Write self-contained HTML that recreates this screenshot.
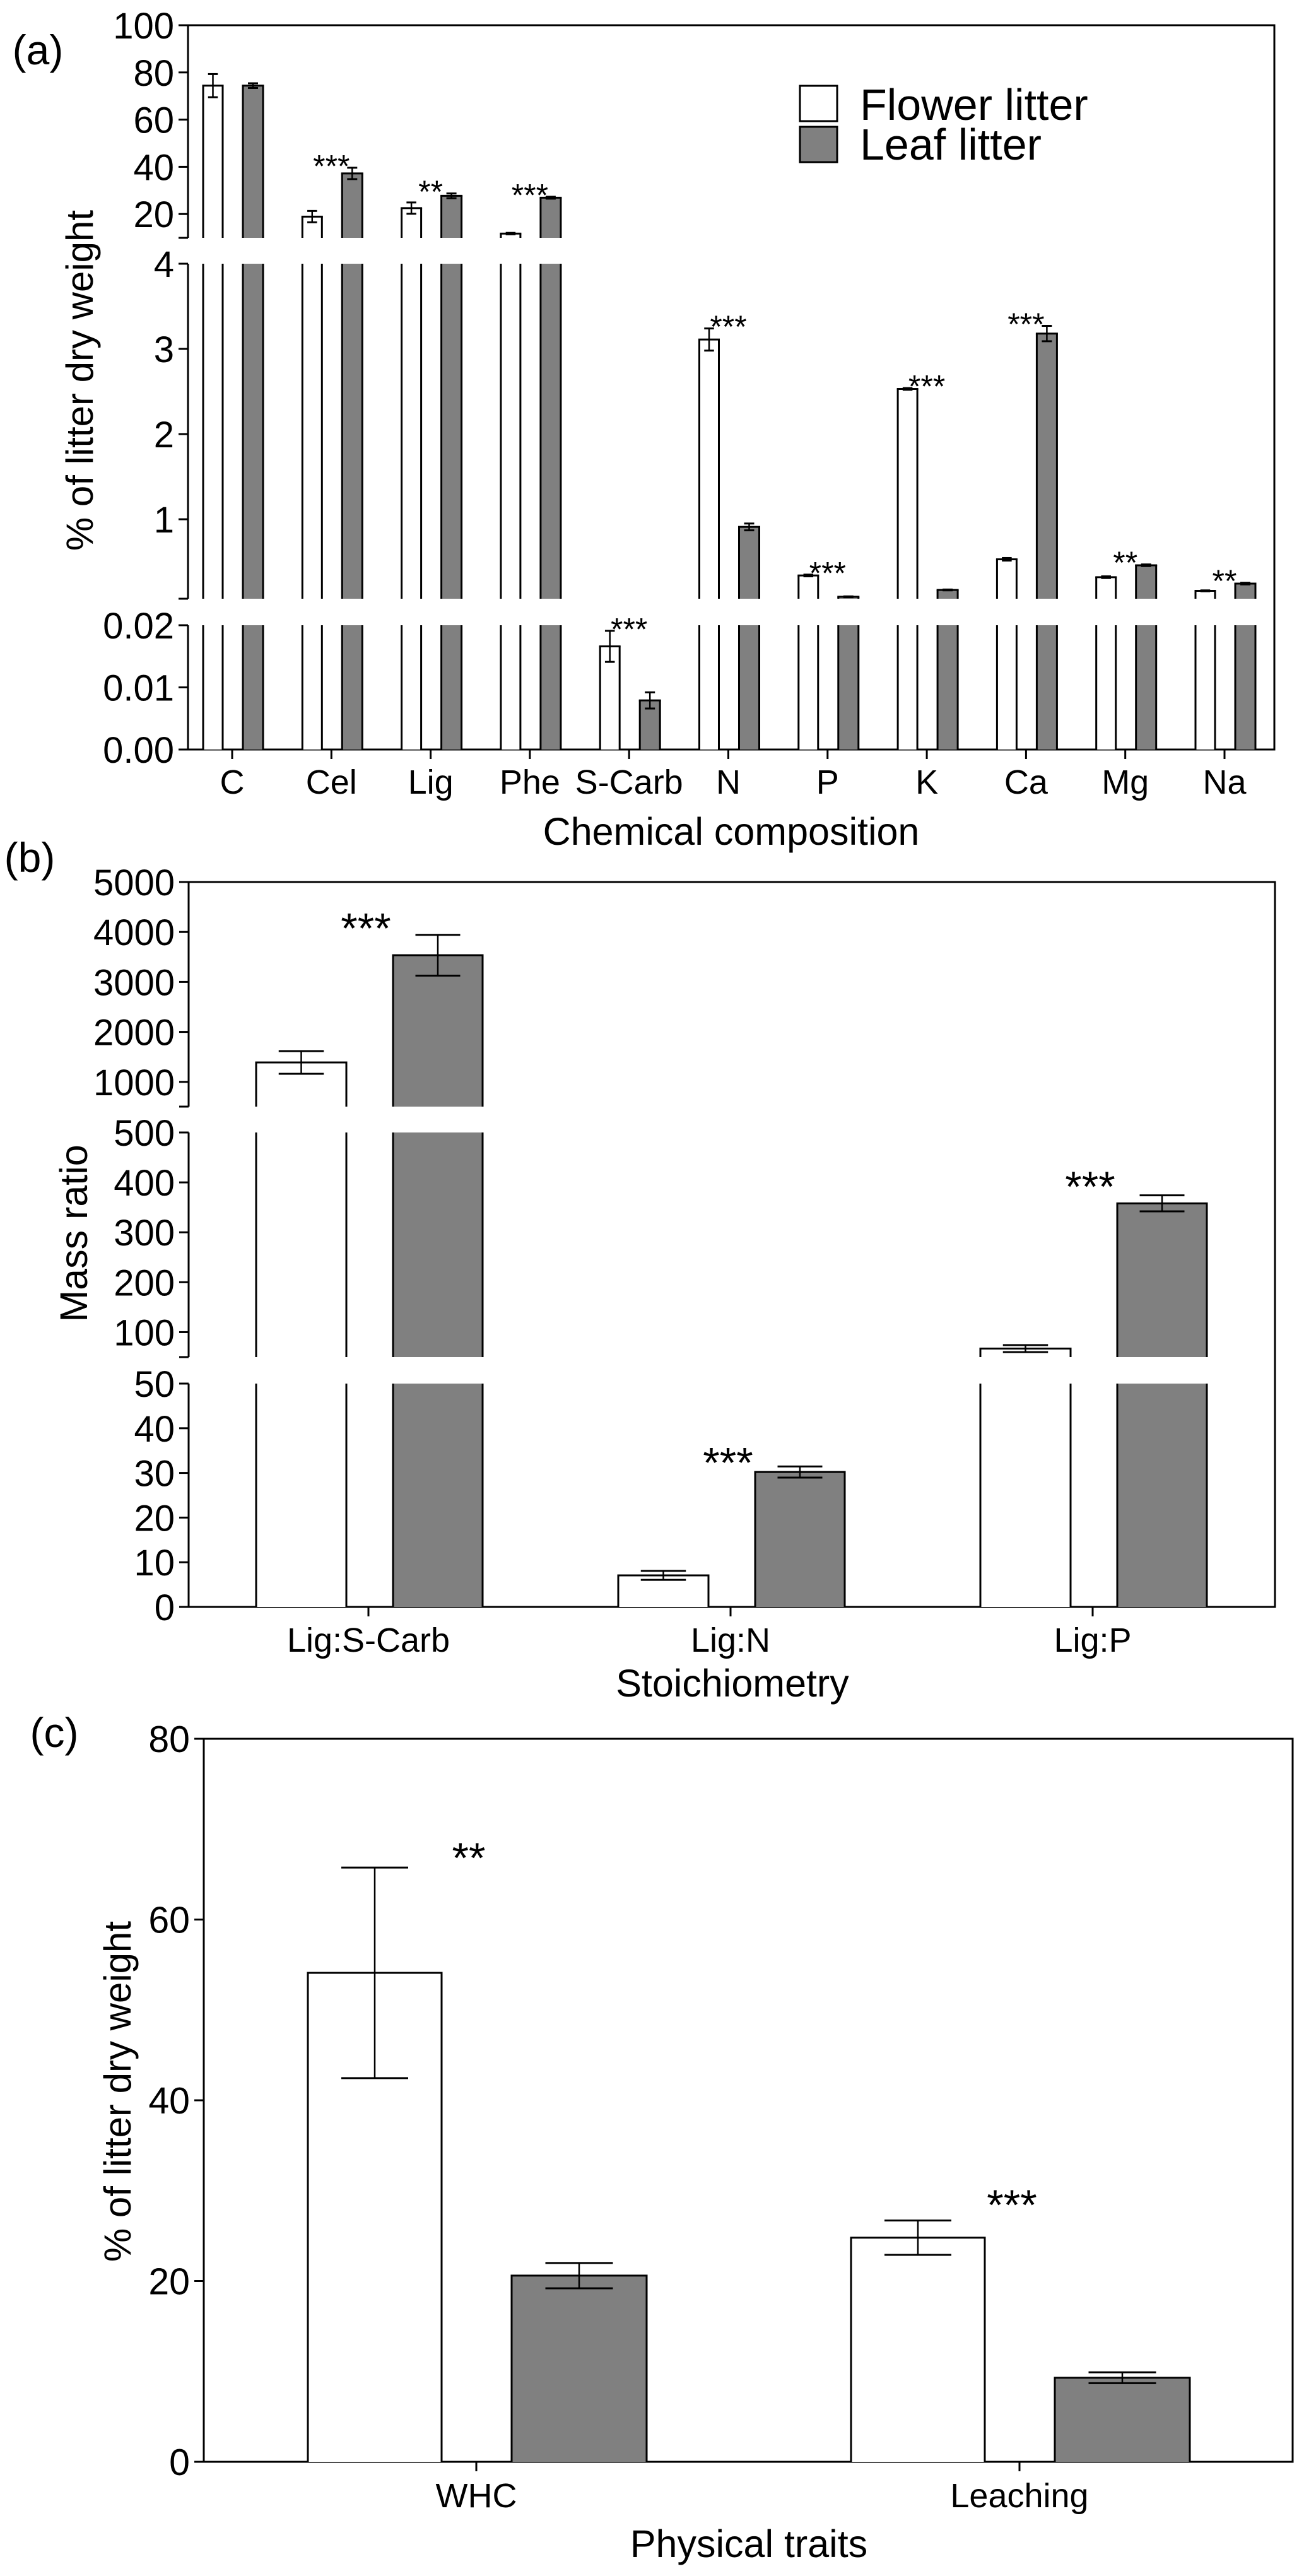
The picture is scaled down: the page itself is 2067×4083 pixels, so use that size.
<!DOCTYPE html>
<html><head><meta charset="utf-8"><title>Litter traits</title>
<style>html,body{margin:0;padding:0;background:#fff;}svg{display:block;}text{font-family:"Liberation Sans",Arial,sans-serif;fill:#000;}</style>
</head><body>
<svg id="fig" xmlns="http://www.w3.org/2000/svg" width="2067" height="4083" viewBox="0 0 2067 4083"></svg>
<script>
// ---- Panel (a) data ----
const catsA = ["C","Cel","Lig","Phe","S-Carb","N","P","K","Ca","Mg","Na"];
const flowerA = [74.4, 18.9, 22.5, 11.7, 0.0166, 3.11, 0.34, 2.53, 0.53, 0.32, 0.16];
const flowerErrA = [4.9, 2.4, 2.4, 0.3, 0.0025, 0.13, 0.01, 0.01, 0.015, 0.01, 0.005];
const leafA = [74.4, 37.2, 27.7, 26.9, 0.0079, 0.91, 0.09, 0.17, 3.18, 0.46, 0.245];
const leafErrA = [1.0, 2.4, 1.0, 0.4, 0.0013, 0.04, 0.005, 0.005, 0.09, 0.01, 0.01];
const starsA = ["","***","**","***","***","***","***","***","***","**","**"];
const ticksA1 = [20,40,60,80,100];
const tickLabA1 = ["20","40","60","80","100"];
const ticksA2 = [1,2,3,4];
const tickLabA2 = ["1","2","3","4"];
const ticksA3 = [0,0.01,0.02];
const tickLabA3 = ["0.00","0.01","0.02"];
// ---- Panel (b) data ----
const catsB = ["Lig:S-Carb","Lig:N","Lig:P"];
const flowerB = [1389, 7.06, 67];
const flowerErrB = [227, 1.0, 7];
const leafB = [3535, 30.2, 358];
const leafErrB = [408, 1.25, 16];
const starsB = ["***","***","***"];
const starValB = [4268, 34.5, 411];
const ticksB1 = [1000,2000,3000,4000,5000];
const tickLabB1 = ["1000","2000","3000","4000","5000"];
const ticksB2 = [100,200,300,400,500];
const tickLabB2 = ["100","200","300","400","500"];
const ticksB3 = [0,10,20,30,40,50];
const tickLabB3 = ["0","10","20","30","40","50"];
// ---- Panel (c) data ----
const catsC = ["WHC","Leaching"];
const flowerC = [54.1, 24.8];
const flowerErrC = [11.65, 1.9];
const leafC = [20.6, 9.3];
const leafErrC = [1.4, 0.6];
const starsC = ["**","***"];
const starValC = [67.9, 29.5];
const ticksC = [0,20,40,60,80];
const tickLabC = ["0","20","40","60","80"];

const NS = "http://www.w3.org/2000/svg";
const svg = document.getElementById("fig");
function mk(tag, attrs, name, parent) {
  const el = document.createElementNS(NS, tag);
  for (const k in attrs) el.setAttribute(k, attrs[k]);
  
  
  (parent || svg).appendChild(el);
  return el;
}
function txt(x, y, s, size, anchor, name, extra) {
  const t = mk("text", Object.assign({x: x, y: y, "font-size": size, "text-anchor": anchor || "middle"}, extra || {}), name);
  t.textContent = s;
  return t;
}
function line(x1, y1, x2, y2, name, w) {
  return mk("line", {x1: x1, y1: y1, x2: x2, y2: y2, stroke: "#000", "stroke-width": w || 3}, name);
}
function segY(seg, v) { return seg.yLo - (v - seg.lo) / (seg.hi - seg.lo) * (seg.yLo - seg.yHi); }
function segOf(segs, v) {
  for (const s of segs) { if (v >= s.lo && v <= s.hi) return s; }
  return segs[segs.length - 1];
}

function drawBar(segs, xl, xr, v, fill, name) {
  segs.forEach(function (s, si) {
    if (v <= s.lo && si < segs.length - 1) return;
    const top = v >= s.hi ? s.yHi : segY(s, Math.max(v, s.lo));
    mk("rect", {x: xl, y: top, width: xr - xl, height: s.yLo - top, fill: fill, stroke: "none"}, name + "-fill");
    line(xl, top, xl, s.yLo, name + "-left-edge");
    line(xr, top, xr, s.yLo, name + "-right-edge");
    if (v < s.hi) line(xl - 1.5, top, xr + 1.5, top, name + "-top-edge");
  });
}
function drawErr(segs, cx, v, e, w, name) {
  const s = segOf(segs, v);
  const yh = segY(s, Math.min(v + e, s.hi + (s.hi - s.lo)));
  const yl = segY(s, v - e);
  line(cx, yh, cx, yl, name + "-whisker", 2.5);
  line(cx - w / 2, yh, cx + w / 2, yh, name + "-cap-high", 3);
  line(cx - w / 2, yl, cx + w / 2, yl, name + "-cap-low", 3);
}

function drawPanel(p) {
  // frame: top, right, bottom axis
  line(p.x0 - 1.5, p.yTop, p.x1 + 1.5, p.yTop, p.id + "-frame-top");
  line(p.x1, p.yTop, p.x1, p.yAxis + 1.5, p.id + "-frame-right");
  line(p.x0 - 1.5, p.yAxis, p.x1 + 1.5, p.yAxis, p.id + "-x-axis");
  // y-axis segments + ticks
  p.segs.forEach(function (s, si) {
    line(p.x0, s.yHi, p.x0, s.yLo, p.id + "-y-axis-segment");
    line(p.x0 - 15, s.yLo, p.x0, s.yLo, p.id + "-y-break-tick");
    line(p.x0 - 15, s.yHi, p.x0, s.yHi, p.id + "-y-break-tick");
    s.ticks.forEach(function (t, i) {
      const y = segY(s, t);
      line(p.x0 - 15, y, p.x0, y, p.id + "-y-tick");
      txt(p.x0 - 22, y + 21, s.labels[i], p.tickSize, "end", p.id + "-y-tick-label");
    });
  });
  // bars
  p.cats.forEach(function (c, i) {
    const cx = p.cx0 + i * p.step;
    line(cx, p.yAxis, cx, p.yAxis + 15, p.id + "-x-tick");
    txt(cx, p.catY, c, p.catSize, "middle", p.id + "-category-label");
    const fxl = cx + p.fl[0], fxr = cx + p.fl[1];
    const lxl = cx + p.lf[0], lxr = cx + p.lf[1];
    drawBar(p.segs, fxl, fxr, p.flower[i], "#ffffff", p.id + "-flower-bar-" + c);
    drawBar(p.segs, lxl, lxr, p.leaf[i], "#808080", p.id + "-leaf-bar-" + c);
    drawErr(p.segs, (fxl + fxr) / 2, p.flower[i], p.flowerErr[i], (fxr - fxl) / 2, p.id + "-flower-error-" + c);
    drawErr(p.segs, (lxl + lxr) / 2, p.leaf[i], p.leafErr[i], (lxr - lxl) / 2, p.id + "-leaf-error-" + c);
    if (p.stars[i]) {
      let yc;
      if (p.starVal) { yc = segY(segOf(p.segs, p.starVal[i]), p.starVal[i]); }
      else {
        const sf = segOf(p.segs, p.flower[i]), sl = segOf(p.segs, p.leaf[i]);
        yc = Math.min(segY(sf, p.flower[i] + p.flowerErr[i]), segY(sl, p.leaf[i] + p.leafErr[i])) - 14;
      }
      txt(cx + (p.starDx || 0), yc + p.starSize * 0.57, p.stars[i], p.starSize, "middle", p.id + "-significance-stars");
    }
  });
}

// Panel a
drawPanel({
  id: "panel-a", x0: 298, x1: 2020, yTop: 40, yAxis: 1188, cx0: 368, step: 157.3,
  fl: [-46, -15], lf: [17, 49], cats: catsA, flower: flowerA, flowerErr: flowerErrA,
  leaf: leafA, leafErr: leafErrA, stars: starsA, starSize: 50, tickSize: 58, catSize: 54, catY: 1258,
  segs: [
    {lo: 9.9, hi: 100, yLo: 377, yHi: 40, ticks: ticksA1, labels: tickLabA1},
    {lo: 0.067, hi: 4, yLo: 949, yHi: 418, ticks: ticksA2, labels: tickLabA2},
    {lo: 0, hi: 0.02, yLo: 1188, yHi: 991, ticks: ticksA3, labels: tickLabA3}
  ]
});
txt(60, 102, "(a)", 66, "middle", "panel-a-label");
txt(1159, 1339, "Chemical composition", 61, "middle", "panel-a-x-axis-title");
txt(147, 603, "% of litter dry weight", 60, "middle", "panel-a-y-axis-title", {transform: "rotate(-90 147 603)"});
mk("rect", {x: 1268, y: 136, width: 59, height: 56, fill: "#fff", stroke: "#000", "stroke-width": 3}, "legend-flower-swatch");
mk("rect", {x: 1268, y: 201, width: 59, height: 56, fill: "#808080", stroke: "#000", "stroke-width": 3}, "legend-leaf-swatch");
txt(1363, 190, "Flower litter", 70, "start", "legend-flower-label");
txt(1363, 253, "Leaf litter", 70, "start", "legend-leaf-label");

// Panel b
drawPanel({
  id: "panel-b", x0: 299, x1: 2021, yTop: 1398, yAxis: 2547, cx0: 584, step: 574,
  fl: [-178, -35], lf: [39, 181], cats: catsB, flower: flowerB, flowerErr: flowerErrB,
  leaf: leafB, leafErr: leafErrB, stars: starsB, starVal: starValB, starDx: -4, starSize: 68, tickSize: 58, catSize: 54, catY: 2618,
  segs: [
    {lo: 505, hi: 5000, yLo: 1754, yHi: 1398, ticks: ticksB1, labels: tickLabB1},
    {lo: 50, hi: 500, yLo: 2151, yHi: 1795, ticks: ticksB2, labels: tickLabB2},
    {lo: 0, hi: 50, yLo: 2547, yHi: 2193, ticks: ticksB3, labels: tickLabB3}
  ]
});
txt(47, 1382, "(b)", 66, "middle", "panel-b-label");
txt(1161, 2689, "Stoichiometry", 61, "middle", "panel-b-x-axis-title");
txt(138, 1955, "Mass ratio", 61, "middle", "panel-b-y-axis-title", {transform: "rotate(-90 138 1955)"});

// Panel c
drawPanel({
  id: "panel-c", x0: 323, x1: 2049, yTop: 2756, yAxis: 3902, cx0: 755, step: 861,
  fl: [-267, -55], lf: [56, 270], cats: catsC, flower: flowerC, flowerErr: flowerErrC,
  leaf: leafC, leafErr: leafErrC, stars: starsC, starVal: starValC, starDx: -12, starSize: 68, tickSize: 59, catSize: 54, catY: 3974,
  segs: [
    {lo: 0, hi: 80, yLo: 3902, yHi: 2756, ticks: ticksC, labels: tickLabC}
  ]
});
txt(86, 2769, "(c)", 66, "middle", "panel-c-label");
txt(1187, 4053, "Physical traits", 61, "middle", "panel-c-x-axis-title");
txt(207, 3315, "% of litter dry weight", 60, "middle", "panel-c-y-axis-title", {transform: "rotate(-90 207 3315)"});
</script>
</body></html>
